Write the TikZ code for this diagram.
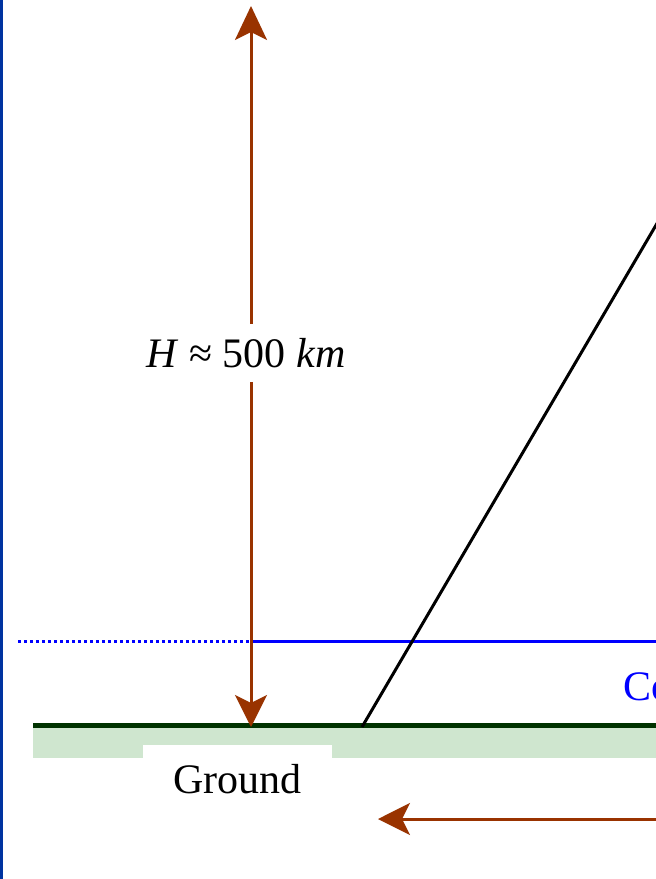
\documentclass[tikz,border=0pt]{standalone}
\usepackage{fontspec}
\setmainfont{Liberation Serif}
\usepackage{tikz}
\usetikzlibrary{arrows.meta}

\definecolor{brownarr}{RGB}{153,51,0}
\definecolor{groundline}{RGB}{0,51,0}
\definecolor{groundfill}{RGB}{207,230,207}
\definecolor{frameblue}{RGB}{0,51,160}

\tikzset{
	heightarrow/.style={draw=brownarr, line width=3pt,
		arrows={Stealth[length=34pt,width=32pt,inset=8pt]-Stealth[length=32pt,width=32pt,inset=8pt]}},
	swatharrow/.style={draw=brownarr, line width=3pt,
		arrows={-Stealth[length=32pt,width=32pt,inset=8pt]}},
	bigtext/.style={font=\fontsize{42}{50}\selectfont, inner sep=4pt}
}

\begin{document}
\begin{tikzpicture}[x=1pt,y=-1pt]
	% 画布大小
	\path[use as bounding box] (0,0) rectangle (656,879);
	\clip (0,0) rectangle (656,879);
	\fill[white] (0,0) rectangle (656,879);
	% 左侧蓝色边框
	\fill[frameblue] (0,0) rectangle (2.5,879);
	
	% 地面：浅绿色带和深绿色线
	\fill[groundfill] (33,727) rectangle (660,758);
	\draw[groundline, line width=5pt] (33,725) -- (660,725);
	\node[bigtext, fill=white, text depth=0pt, minimum width=189pt, minimum height=68pt,
		anchor=north] (ground) at (237.5,745) {Ground};
	
	% 云层高度（蓝线）
	\coordinate (cl0) at (18,641.5);
	\coordinate (cl1) at (251,641.5);
	\coordinate (cl2) at (660,641.5);
	\draw[blue, line width=3pt, dash pattern=on 3pt off 3pt] (cl0) -- (cl1);
	\draw[blue, line width=3pt] (cl1) -- (cl2);
	\node[bigtext, text=blue, anchor=base west, inner sep=0pt] (cloud) at (623,700) {Co};
	
	% 视线（黑色斜线）
	\coordinate (look0) at (362,727);
	\coordinate (look1) at (700,150);
	\draw[black, line width=3pt] (look0) -- (look1);
	
	% 轨道高度 H
	\coordinate (htop) at (251,6);
	\coordinate (hfoot) at (251,727);
	\draw[heightarrow] (htop) -- (hfoot);
	\node[bigtext, fill=white, minimum height=58pt] (hlabel) at (246,353)
		{\textit{H} ≈ 500 \textit{km}};
	
	% 底部箭头
	\coordinate (sw0) at (660,819);
	\coordinate (sw1) at (378,819);
	\draw[swatharrow] (sw0) -- (sw1);
\end{tikzpicture}
\end{document}
